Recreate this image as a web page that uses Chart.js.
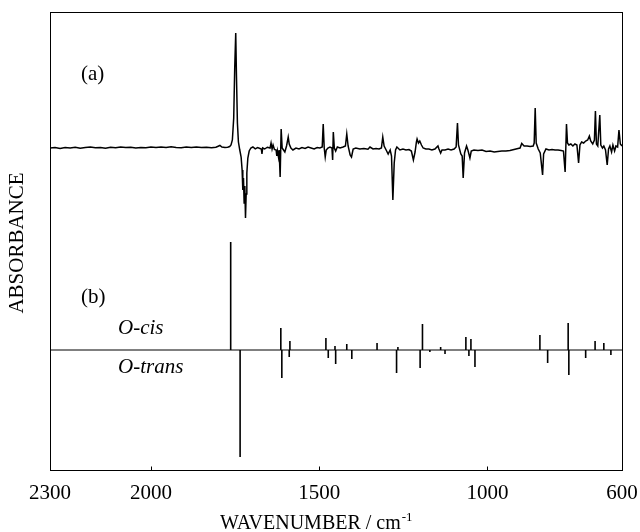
<!DOCTYPE html>
<html>
<head>
<meta charset="utf-8">
<script src="https://cdn.jsdelivr.net/npm/chart.js@4.4.0/dist/chart.umd.min.js"></script>
<style>html,body{margin:0;padding:0;background:#fff}#c{display:block}</style>
</head>
<body>
<canvas id="c" width="640" height="532"></canvas>
<script>
// ---- data ----
const xTicks = [2300, 2000, 1500, 1000, 600];

// (a) measured difference spectrum: wavenumber / relative absorbance
const traceWn = [
 2300,2285,2270,2255,2240,2225,2210,2195,2180,2165,
 2150,2135,2120,2105,2090,2075,2060,2045,2030,2015,
 2000,1985,1970,1955,1940,1925,1910,1895,1880,1865,
 1850,1835,1820,1807,1800,1795,1789,1780,1772,1766,
 1762,1758,1754,1751,1748,1746,1743,1740,1736,1732,
 1729,1727,1725,1723,1721,1719,1717,1715,1712,1708,
 1703,1697,1690,1683,1676,1672,1670,1668,1662,1654,
 1646,1643,1640,1637,1633,1628,1626,1624,1621,1619,
 1616,1613,1610,1606,1602,1597,1592,1589,1584,1578,
 1569,1560,1551,1542,1533,1524,1515,1506,1498,1491,
 1488,1485,1482,1479,1474,1468,1462,1460,1458,1455,
 1451,1446,1438,1429,1422,1418,1414,1408,1404,1399,
 1391,1379,1367,1355,1349,1340,1331,1322,1315,1311,
 1307,1301,1295,1289,1285,1281,1277,1273,1269,1260,
 1251,1242,1233,1226,1220,1215,1211,1209,1205,1201,
 1196,1191,1183,1174,1165,1156,1147,1144,1139,1135,
 1126,1117,1108,1099,1093,1089,1086,1079,1075,1072,
 1068,1062,1058,1052,1048,1040,1028,1016,1004,992,
 980,969,957,945,933,921,909,903,898,891,
 882,873,864,861,858,855,849,843,836,833,
 826,817,808,799,790,781,774,769,765,762,
 758,752,746,740,734,729,725,720,714,708,
 702,697,693,687,682,679,676,672,666,663,
 658,654,649,644,640,636,631,627,622,618,
 613,609,605,600
];
const traceAbs = [
 0.000,0.005,-0.004,0.006,0.000,0.008,-0.003,0.004,0.010,0.002,
 0.006,-0.002,0.007,0.003,0.010,0.004,0.008,0.000,0.006,0.002,
 0.009,0.004,0.010,0.005,0.012,0.006,0.003,0.009,0.004,0.011,
 0.006,0.008,0.003,0.007,0.018,0.026,0.010,0.004,0.008,0.015,
 0.030,0.080,0.300,0.800,1.150,0.750,0.250,0.060,-0.020,-0.090,
 -0.220,-0.420,-0.300,-0.550,-0.380,-0.700,-0.460,-0.250,-0.100,-0.030,
 0.000,0.010,-0.008,0.004,-0.005,-0.010,-0.060,0.000,-0.010,0.008,
 0.000,0.050,-0.010,0.030,-0.015,-0.020,-0.080,-0.030,-0.090,-0.020,
 -0.290,0.190,0.000,-0.020,-0.040,0.020,0.110,0.040,0.000,-0.020,
 0.000,-0.010,0.005,-0.005,0.010,0.000,-0.010,0.005,0.000,0.010,
 0.240,0.000,-0.090,-0.020,0.000,0.010,0.000,-0.120,0.160,0.000,
 -0.030,0.010,0.000,0.010,0.020,0.140,0.020,-0.070,-0.090,-0.010,
 0.000,-0.010,-0.005,-0.012,0.010,-0.010,-0.005,-0.010,0.000,0.110,
 0.020,-0.020,-0.060,-0.020,-0.080,-0.520,-0.150,-0.020,0.010,-0.020,
 -0.010,-0.020,-0.015,-0.030,-0.120,-0.040,0.060,0.090,0.050,0.070,
 0.030,0.000,-0.010,-0.010,-0.020,-0.010,0.020,-0.010,-0.050,-0.020,
 -0.020,-0.010,-0.020,-0.010,0.010,0.250,0.030,-0.060,-0.080,-0.300,
 -0.050,0.020,-0.020,-0.100,-0.030,-0.020,-0.025,-0.020,-0.035,-0.030,
 -0.040,-0.035,-0.030,-0.030,-0.025,-0.015,-0.005,0.000,0.045,0.020,
 0.020,0.015,0.020,0.050,0.400,0.050,-0.010,-0.050,-0.270,-0.060,
 -0.010,-0.020,-0.015,-0.020,-0.020,-0.025,-0.030,-0.240,0.240,0.050,
 0.030,0.040,0.020,0.040,0.030,-0.150,0.030,0.060,0.050,0.070,
 0.080,0.120,0.070,0.040,0.080,0.370,0.040,0.020,0.330,0.030,
 0.000,0.020,-0.020,-0.170,-0.010,0.020,-0.040,0.030,-0.030,0.020,
 0.010,0.180,0.040,0.020
];

// (b) calculated stick spectra
const cisWn  = [1763,1614,1587,1480,1453,1418,1328,1266,1193,1139,1064,1049,844,760,680,654];
const cisInt = [1.08,0.22,0.09,0.12,0.04,0.06,0.07,0.03,0.26,0.03,0.13,0.11,0.15,0.27,0.09,0.07];
const transWn  = [1735,1611,1589,1473,1451,1403,1270,1200,1171,1126,1055,1037,821,758,708,633];
const transInt = [1.07,0.28,0.07,0.08,0.14,0.09,0.23,0.18,0.02,0.04,0.06,0.17,0.13,0.25,0.08,0.05];

// vertical offsets of the two panels
const offsetA = 3.22;
const offsetB = 1.20;

// ---- build datasets ----
const tracePts = traceWn.map((w, i) => ({x: w, y: offsetA + traceAbs[i]}));
function sticks(wn, inten, sign) {
  const pts = [];
  wn.forEach((w, i) => {
    pts.push({x: w, y: offsetB}, {x: w, y: offsetB + sign * inten[i]}, {x: w, y: null});
  });
  return pts;
}
const cisPts = sticks(cisWn, cisInt, 1);
const transPts = sticks(transWn, transInt, -1);

const SERIF = "'Liberation Serif', 'Times New Roman', serif";
const FS = 21;

const annotations = [
  {text: '(a)', wn: 2208, y: 3.96, italic: false},
  {text: '(b)', wn: 2208, y: 1.73, italic: false},
  {text: 'O-cis', wn: 2098, y: 1.42, italic: true},
  {text: 'O-trans', wn: 2098, y: 1.03, italic: true}
];

const decor = {
  id: 'decor',
  afterDraw(chart) {
    const {ctx, chartArea: a, scales: {x, y}} = chart;
    ctx.save();
    ctx.strokeStyle = '#000';
    ctx.lineWidth = 1;
    const L = Math.round(a.left) + 0.5, T = Math.round(a.top) + 0.5;
    const R = Math.round(a.right) + 0.5, B = Math.round(a.bottom) + 0.5;
    ctx.strokeRect(L, T, R - L, B - T);
    xTicks.forEach(v => {
      const px = Math.round(x.getPixelForValue(v)) + 0.5;
      ctx.beginPath(); ctx.moveTo(px, B); ctx.lineTo(px, B - 4); ctx.stroke();
    });
    ctx.fillStyle = '#000';
    ctx.textBaseline = 'middle';
    ctx.textAlign = 'left';
    annotations.forEach(t => {
      ctx.font = (t.italic ? 'italic ' : '') + FS + 'px ' + SERIF;
      ctx.fillText(t.text, x.getPixelForValue(t.wn), y.getPixelForValue(t.y));
    });
    // x-axis title with superscript
    const main = 'WAVENUMBER / cm', sup = '-1';
    ctx.font = '20px ' + SERIF;
    const wMain = ctx.measureText(main).width;
    ctx.font = '13px ' + SERIF;
    const wSup = ctx.measureText(sup).width;
    const cx = x.getPixelForValue(1510);
    const x0 = cx - (wMain + wSup) / 2;
    const ty = 522;
    ctx.font = '20px ' + SERIF;
    ctx.textBaseline = 'alphabetic';
    ctx.fillText(main, x0, ty + 7);
    ctx.font = '13px ' + SERIF;
    ctx.fillText(sup, x0 + wMain + 1, ty - 1);
    // y-axis title
    ctx.font = FS + 'px ' + SERIF;
    ctx.textAlign = 'center';
    ctx.textBaseline = 'middle';
    ctx.translate(17, 243);
    ctx.rotate(-Math.PI / 2);
    ctx.fillText('ABSORBANCE', 0, 0);
    ctx.restore();
  }
};

new Chart(document.getElementById('c'), {
  type: 'line',
  data: {
    datasets: [
      {data: tracePts, borderColor: '#000', borderWidth: 1.5, pointRadius: 0, tension: 0},
      {data: [{x: 2300, y: offsetB}, {x: 600, y: offsetB}], borderColor: '#000', borderWidth: 1, pointRadius: 0},
      {data: cisPts, borderColor: '#000', borderWidth: 1.6, pointRadius: 0, spanGaps: false},
      {data: transPts, borderColor: '#000', borderWidth: 1.6, pointRadius: 0, spanGaps: false}
    ]
  },
  options: {
    responsive: false,
    animation: false,
    devicePixelRatio: 1,
    layout: {padding: {left: 50, right: 18, top: 12, bottom: 0}},
    plugins: {legend: {display: false}, tooltip: {enabled: false}},
    scales: {
      x: {
        type: 'linear', reverse: true, min: 600, max: 2300,
        afterBuildTicks: s => { s.ticks = xTicks.map(v => ({value: v})); },
        afterFit: s => { s.height = 62; s.paddingLeft = 0; s.paddingRight = 0; },
        ticks: {autoSkip: false, maxRotation: 0, padding: 3, color: '#000',
                font: {family: SERIF, size: FS}, callback: v => String(v)},
        grid: {display: false},
        border: {display: false},
        title: {display: false}
      },
      y: {
        type: 'linear', min: 0, max: 4.58, display: false
      }
    }
  },
  plugins: [decor]
});
</script>
</body>
</html>
